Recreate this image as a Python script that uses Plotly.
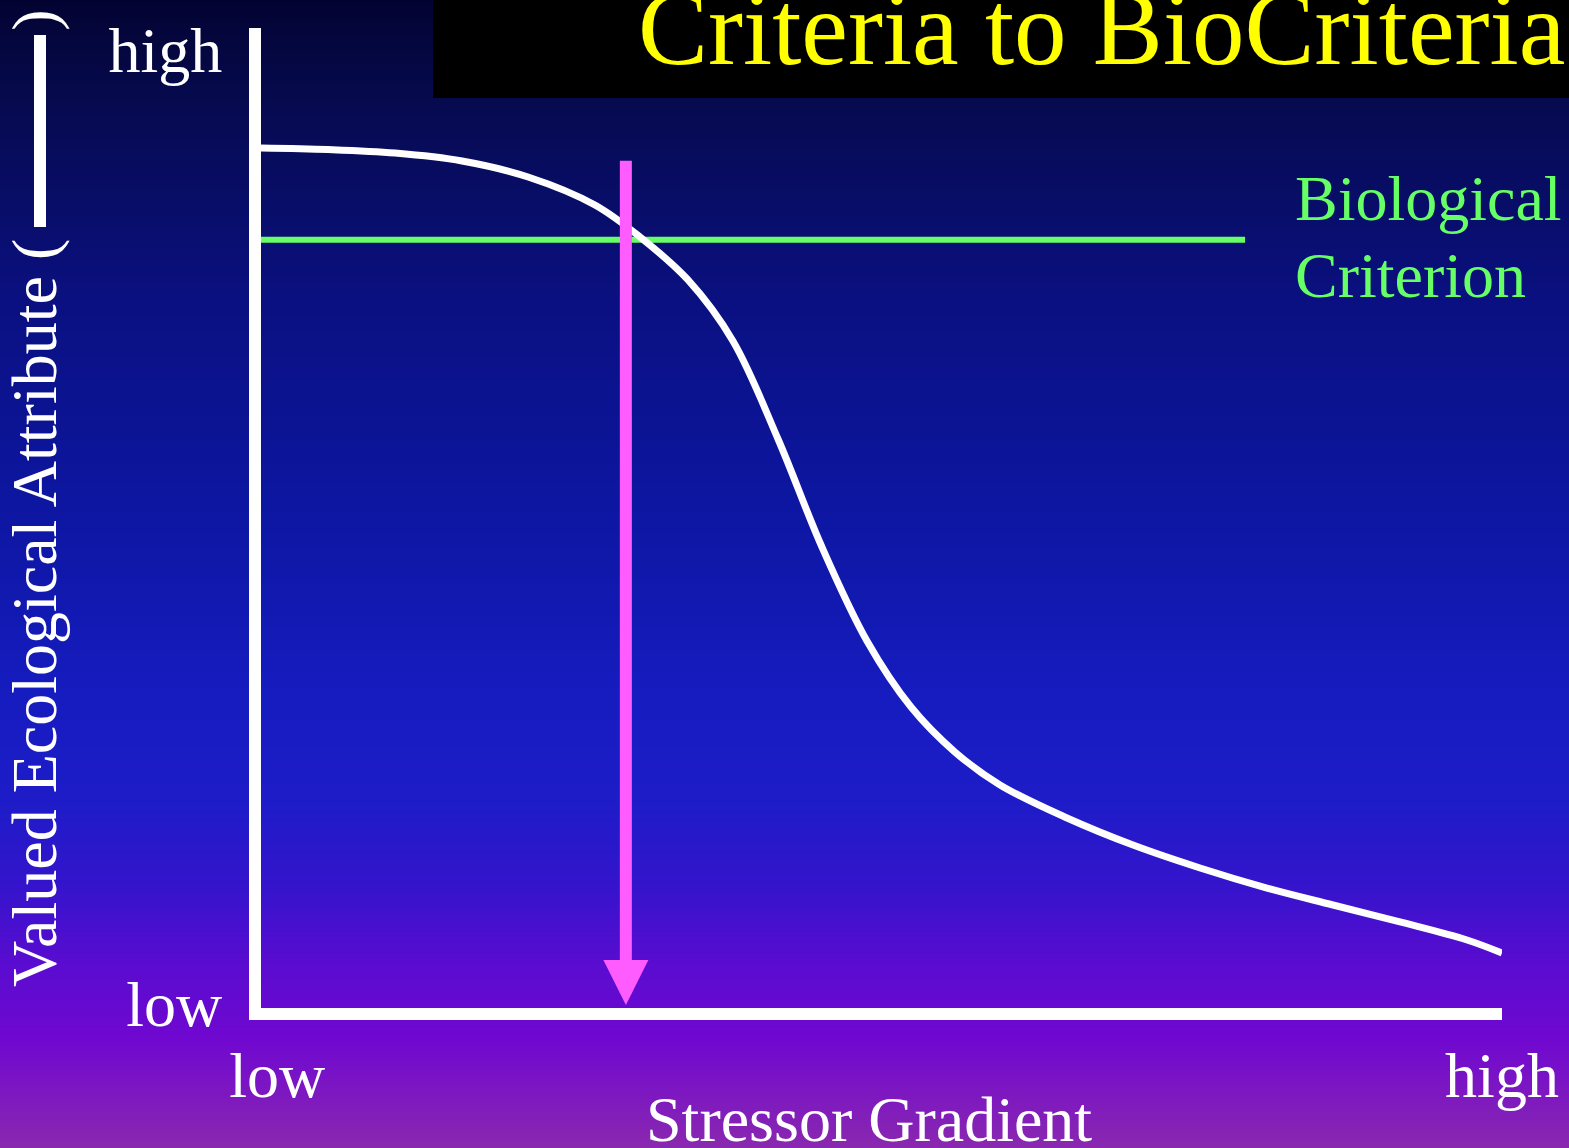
import plotly.graph_objects as go

W, H = 1569, 1148
SERIF = "Liberation Serif, Times New Roman, serif"

# ---- data ----
stress = [0, 0.540, 1.080, 1.620, 2.152, 2.691, 3.054, 3.441, 3.803, 4.166,
          4.520, 4.883, 5.238, 5.592, 5.955, 6.495, 7.027, 7.567, 8.106,
          8.638, 9.178, 9.718, 10.0]
attribute = [8.776, 8.760, 8.724, 8.643, 8.480, 8.194, 7.867, 7.429, 6.806,
             5.806, 4.704, 3.745, 3.071, 2.612, 2.276, 1.939, 1.663, 1.429,
             1.224, 1.051, 0.878, 0.694, 0.561]
criterion_x = [0, 7.93]
criterion_y = [7.84, 7.84]
arrow_x = 2.94
arrow_from = 8.66
arrow_to = 0.03
x_tickvals = [0.13, 10.0]
x_ticktext = ["low", "high"]
y_tickvals = [0.05, 9.78]
y_ticktext = ["low", "high"]

# background gradient (fraction from top, colour)
bg_stops = [0.0, 0.087, 0.26, 0.435, 0.61, 0.70, 0.77, 0.84, 0.905, 1.0]
bg_colors = ["#030332", "#060a4e", "#0a1080", "#0d16a0", "#161cc0",
             "#1e1cc8", "#3414cc", "#5a0cd0", "#7008d0", "#8a28b0"]


def fx(x):  # page pixel -> full-page axis coordinate
    return x / W


def fy(y):
    return y / H


fig = go.Figure()

# background gradient on full-page axes (y runs top -> bottom)
fig.add_trace(go.Heatmap(
    x=[0, 1], y=bg_stops, z=[[s, s] for s in bg_stops],
    colorscale=[[s, c] for s, c in zip(bg_stops, bg_colors)],
    zmin=0, zmax=1, zsmooth="best", showscale=False, hoverinfo="skip",
    xaxis="x", yaxis="y"))

# data
fig.add_trace(go.Scatter(
    x=criterion_x, y=criterion_y, mode="lines",
    line=dict(color="#66ff66", width=6), hoverinfo="skip",
    xaxis="x2", yaxis="y2", showlegend=False))
fig.add_trace(go.Scatter(
    x=stress, y=attribute, mode="lines",
    line=dict(color="white", width=7, shape="spline", smoothing=1.0,
              simplify=False),
    xaxis="x2", yaxis="y2", showlegend=False))

FS = 64
fig.update_layout(
    width=W, height=H,
    margin=dict(l=0, r=0, t=0, b=0, pad=0, autoexpand=False),
    paper_bgcolor="#0a1080", plot_bgcolor="rgba(0,0,0,0)",
    font=dict(family=SERIF, color="white", size=FS),
    showlegend=False,
    xaxis=dict(domain=[0, 1], range=[0, 1], visible=False, fixedrange=True,
               automargin=False),
    yaxis=dict(domain=[0, 1], range=[1, 0], visible=False, fixedrange=True,
               automargin=False),
    xaxis2=dict(domain=[261 / W, 1502 / W], range=[0, 10], anchor="y2",
                showline=True, linewidth=12, linecolor="white",
                showgrid=False, zeroline=False, ticks="", automargin=False,
                tickvals=x_tickvals, ticktext=x_ticktext,
                ticklabelstandoff=0,
                tickfont=dict(family=SERIF, size=FS, color="white")),
    yaxis2=dict(domain=[1 - 1008 / H, 1 - 28 / H], range=[0, 10], anchor="x2",
                showline=True, linewidth=12, linecolor="white",
                showgrid=False, zeroline=False, ticks="", automargin=False,
                tickvals=y_tickvals, ticktext=y_ticktext,
                ticklabelstandoff=14,
                tickfont=dict(family=SERIF, size=FS, color="white")),
)

# title box
fig.add_shape(type="rect", xref="x", yref="y",
              x0=fx(433), x1=1.0, y0=0.0, y1=fy(98),
              fillcolor="black", line=dict(width=0), layer="above")
# line sample in the y-axis title
fig.add_shape(type="rect", xref="x", yref="y",
              x0=fx(34), x1=fx(46), y0=fy(35), y1=fy(227),
              fillcolor="white", line=dict(width=0), layer="above")

NB = "\u00a0"
annotations = [
    dict(text="Criteria to BioCriteria", xref="x", yref="y",
         x=fx(1567), y=fy(28), xanchor="right", yanchor="middle",
         showarrow=False, font=dict(family=SERIF, size=105, color="#ffff00")),
    dict(text="Biological", xref="x", yref="y",
         x=fx(1293), y=fy(198), xanchor="left", yanchor="middle",
         showarrow=False, font=dict(family=SERIF, size=FS, color="#66ff66")),
    dict(text="Criterion", xref="x", yref="y",
         x=fx(1293), y=fy(275), xanchor="left", yanchor="middle",
         showarrow=False, font=dict(family=SERIF, size=FS, color="#66ff66")),
    dict(text="Stressor Gradient", xref="x", yref="y",
         x=fx(869), y=fy(1119), xanchor="center", yanchor="middle",
         showarrow=False, font=dict(family=SERIF, size=FS, color="white")),
    dict(text="Valued Ecological Attribute (" + NB * 13 + ")",
         xref="x", yref="y", textangle=-90,
         x=fx(34), y=fy(498), xanchor="center", yanchor="middle",
         showarrow=False, font=dict(family=SERIF, size=FS, color="white")),
    dict(text="", x=arrow_x, y=arrow_to, ax=arrow_x, ay=arrow_from,
         xref="x2", yref="y2", axref="x2", ayref="y2",
         showarrow=True, arrowhead=2, arrowsize=0.75, arrowwidth=12,
         arrowcolor="#ff5cff", standoff=0),
]
fig.update_layout(annotations=annotations)

fig.write_html(
    "out.html",
    config={"displayModeBar": False},
    post_script="document.body.style.margin='0';"
                "document.body.style.overflow='hidden';")
